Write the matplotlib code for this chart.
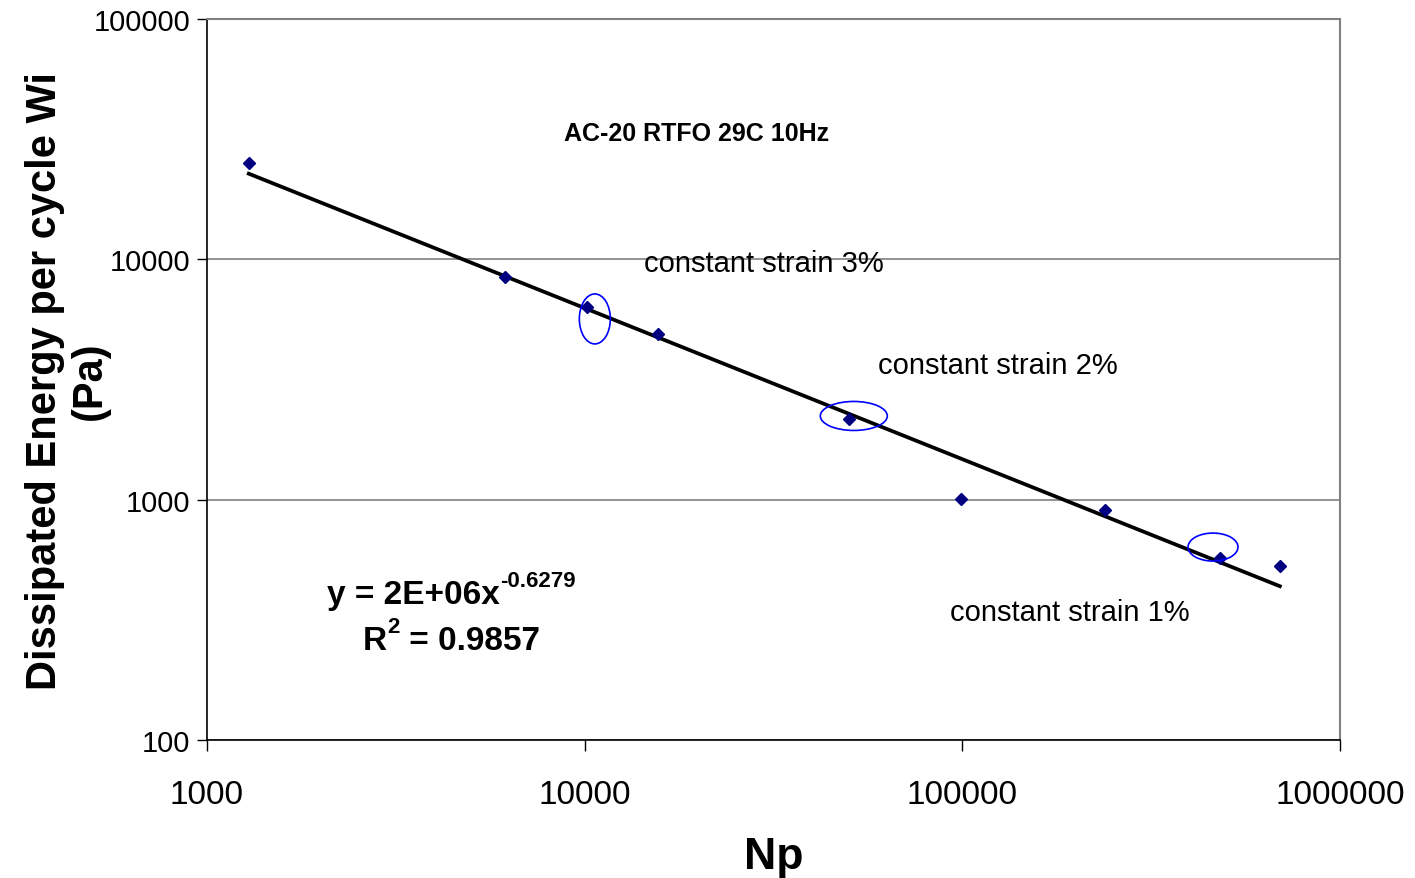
import numpy as np
import matplotlib
matplotlib.use('Agg')
import matplotlib.pyplot as plt
from matplotlib.patches import Ellipse

plt.rcParams['font.family'] = ['Liberation Sans', 'DejaVu Sans']

# data
np_cycles = [1290, 6150, 10140, 15630, 50100, 99100, 238800, 481000, 693000]
energy = [25200, 8440, 6330, 4890, 2160, 1006, 906, 571, 530]

# circled points (Np, Wi) and their size in pixels
circle_np = [10640, 51600, 461000]
circle_w = [5650, 2230, 635]
circle_size = [(31, 50), (67, 29), (50, 28)]

strain_labels = ['constant strain 3%', 'constant strain 2%', 'constant strain 1%']
strain_pos = [(0.3857, 0.6616), (0.5922, 0.520), (0.6558, 0.1775)]

# power law fit
slope, icpt = np.polyfit(np.log10(np_cycles), np.log10(energy), 1)
xfit = np.array([min(np_cycles), max(np_cycles)])
yfit = 10 ** icpt * xfit ** slope

fig = plt.figure(figsize=(14.15, 8.79), dpi=100)
ax = fig.add_axes([207 / 1415, 1 - 741 / 879, 1133 / 1415, 721 / 879])

ax.plot(xfit, yfit, color='black', lw=2.7, zorder=3)
ax.plot(np_cycles, energy, linestyle='none', marker='D', markersize=6.5,
        color='#000080', zorder=4)

ax.set_xscale('log')
ax.set_yscale('log')
ax.set_xlim(1000, 1000000)
ax.set_ylim(100, 100000)
ax.set_xticks([1000, 10000, 100000, 1000000])
ax.set_xticklabels(['1000', '10000', '100000', '1000000'])
ax.set_yticks([100, 1000, 10000, 100000])
ax.set_yticklabels(['100', '1000', '10000', '100000'])
ax.minorticks_off()
ax.tick_params(axis='x', direction='out', length=8, width=1, labelsize=24, pad=20)
ax.tick_params(axis='y', direction='out', length=7, width=1, labelsize=21, pad=5)
ax.yaxis.grid(True, color='#808080', lw=1.2)
ax.set_axisbelow(True)
for s in ['top', 'right']:
    ax.spines[s].set_color('#808080')
    ax.spines[s].set_linewidth(1.5)
for s in ['left', 'bottom']:
    ax.spines[s].set_color('black')
    ax.spines[s].set_linewidth(1.2)

ax.set_xlabel('Np', fontsize=32, fontweight='bold', labelpad=19)
ax.set_ylabel('Dissipated Energy per cycle Wi\n(Pa)', fontsize=30, fontweight='bold',
              linespacing=1.15)
ax.yaxis.set_label_coords(-0.086, 0.5)

ax.text(0.4325, 0.842, 'AC-20 RTFO 29C 10Hz', transform=ax.transAxes, fontsize=18,
        fontweight='bold', ha='center', va='center')
for lbl, (tx, ty) in zip(strain_labels, strain_pos):
    ax.text(tx, ty, lbl, transform=ax.transAxes, fontsize=21, ha='left', va='center')

# trendline equation
t1 = ax.text(0.1059, 0.190, 'y = 2E+06x', transform=ax.transAxes, fontsize=24,
             fontweight='bold', ha='left', va='baseline')
ax.annotate('-0.6279', xy=(1.0, 0.62), xycoords=t1, fontsize=16, fontweight='bold',
            ha='left', va='bottom')
t2 = ax.text(0.1377, 0.126, 'R', transform=ax.transAxes, fontsize=24,
             fontweight='bold', ha='left', va='baseline')
s2 = ax.annotate('2', xy=(1.0, 0.62), xycoords=t2, fontsize=16, fontweight='bold',
                 ha='left', va='bottom')
ax.annotate(' = 0.9857', xy=(1.0, 0.0), xycoords=(s2, t2), fontsize=24,
            fontweight='bold', ha='left', va='bottom')

fig.canvas.draw()
to_axes = ax.transData + ax.transAxes.inverted()
for cx, cy, (w, h) in zip(circle_np, circle_w, circle_size):
    fx, fy = to_axes.transform((cx, cy))
    ax.add_patch(Ellipse((fx, fy), w / 1133, h / 721, transform=ax.transAxes,
                         fill=False, edgecolor='#0000FF', lw=1.2, zorder=5))

fig.savefig('out.png', dpi=100)
